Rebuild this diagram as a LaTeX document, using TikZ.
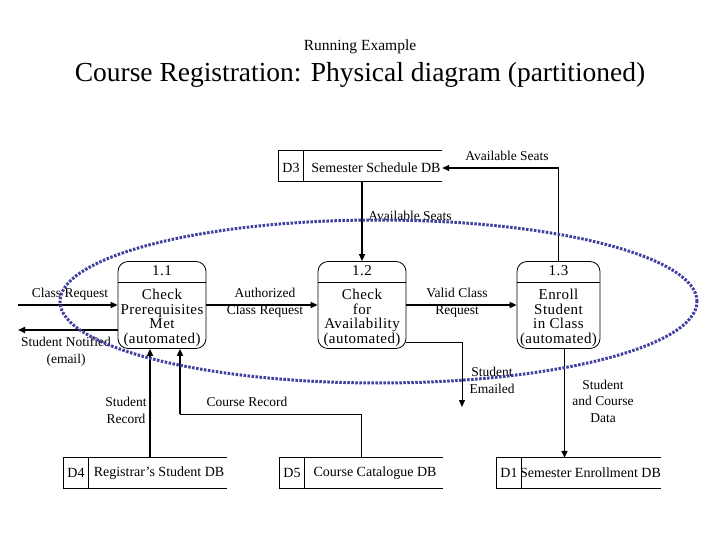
\documentclass[tikz,border=0pt]{standalone}
\usepackage{fontspec}
\setmainfont{Liberation Serif}
\usetikzlibrary{arrows.meta,shapes.geometric}
\definecolor{partblue}{RGB}{64,64,160}
\begin{document}
\begin{tikzpicture}[x=1pt,y=-1pt,
  lbl/.style={font=\fontsize{13.5}{16.5}\selectfont, align=center, inner sep=0},
  ptxt/.style={font=\fontsize{15}{14.5}\selectfont\addfontfeatures{LetterSpace=3}, align=center, inner sep=0},
  proc/.style={draw, rounded corners=10pt, minimum width=88pt, minimum height=87pt, line width=0.8pt, inner sep=0},
  storebox/.style={minimum height=30pt, inner sep=0},
  stxt/.style={font=\fontsize{14}{16}\selectfont, inner sep=0},
  tip/.style={-{Triangle[length=7pt,width=6pt]}},
  flow/.style={line width=2.2pt, tip},
  flowmed/.style={line width=1.5pt, tip},
  thinline/.style={line width=1pt},
  part/.style={draw=partblue, ellipse, line width=3pt, dash pattern=on 2.5pt off 1.5pt, minimum width=637pt, minimum height=163pt, inner sep=0}
]
\useasboundingbox (0,0) rectangle (720,540);
\fill[white] (0,0) rectangle (720,540);

% titles
\node[font=\fontsize{15.5}{18}\selectfont] (t1) at (360,47) {Running Example};
\node[font=\fontsize{27.5}{30}\selectfont] (t2) at (360,75) {Course Registration: Physical diagram (partitioned)};

% data stores
\node[storebox, minimum width=163pt] (d3) at (360.5,166) {};
\draw[thinline] (d3.north east) -- (d3.north west) -- (d3.south west) -- (d3.south east);
\draw[thinline] (303,151) -- (303,181);
\node[stxt] (d3id) at (291,168) {D3};
\node[stxt] (d3t) at (376,168) {Semester Schedule DB};

\node[storebox, minimum width=163pt] (d4) at (145,473) {};
\draw[thinline] (d4.north east) -- (d4.north west) -- (d4.south west) -- (d4.south east);
\draw[thinline] (88,458) -- (88,488);
\node[stxt] (d4id) at (76,473) {D4};
\node[stxt] (d4t) at (159,473) {Registrar's Student DB};

\node[storebox, minimum width=163pt] (d5) at (361.5,473) {};
\draw[thinline] (d5.north east) -- (d5.north west) -- (d5.south west) -- (d5.south east);
\draw[thinline] (304,458) -- (304,488);
\node[stxt] (d5id) at (292,473) {D5};
\node[stxt] (d5t) at (375,473) {Course Catalogue DB};

\node[storebox, minimum width=164pt] (d1) at (579,473) {};
\draw[thinline] (d1.north east) -- (d1.north west) -- (d1.south west) -- (d1.south east);
\draw[thinline] (521,458) -- (521,488);
\node[stxt] (d1id) at (509,473) {D1};
\node[stxt] (d1t) at (590.5,473) {Semester Enrollment DB};

% processes
\node[proc] (p11) at (162,305) {};
\draw[line width=0.8pt] ([yshift=-21pt]p11.north west) -- ([yshift=-21pt]p11.north east);
\node[ptxt] (p11h) at (162,271) {1.1};
\node[ptxt] (p11t) at (162,318) {Check\\Prerequisites\\Met\\(automated)};

\node[proc] (p12) at (362,305) {};
\draw[line width=0.8pt] ([yshift=-21pt]p12.north west) -- ([yshift=-21pt]p12.north east);
\node[ptxt] (p12h) at (362,271) {1.2};
\node[ptxt] (p12t) at (362,318) {Check\\for\\Availability\\(automated)};

\node[proc, minimum width=83pt] (p13) at (558.5,305) {};
\draw[line width=0.8pt] ([yshift=-21pt]p13.north west) -- ([yshift=-21pt]p13.north east);
\node[ptxt] (p13h) at (558.5,271) {1.3};
\node[ptxt] (p13t) at (558.5,318) {Enroll\\Student\\in Class\\(automated)};

% connectors
\coordinate (crin) at (18,305);
\coordinate (snout) at (18,330);
\draw[flow] (crin) -- (p11.west);
\draw[flow] (p11.west |- snout) -- (snout);
\draw[flow] (p11.east) -- (p12.west);
\draw[flow] (p12.east) -- (p13.west);
\draw[flow] (d3.south -| p12.north) -- (p12.north);
\coordinate (asc) at (p13.north |- d3t);
\draw[thinline] (p13.north) -- (asc);
\draw[flow] (asc) -- (d3.east |- d3t);
\coordinate (sem) at (462,407);
\draw[thinline, tip] ([yshift=-37pt]p12.east) -| (sem);
\coordinate (p13b) at ([xshift=6pt]p13.south);
\draw[flowmed] (p13b) -- (p13b |- d1.north);
\draw[flow] ([xshift=5pt]d4.north) -- ([xshift=-12pt]p11.south);
\coordinate (crc) at (180,414);
\draw[thinline] (d5.north) |- (crc);
\draw[flow] (crc) -- ([xshift=18pt]p11.south);

% labels
\node[lbl] (l1) at (507,156) {Available Seats};
\node[lbl] (l2) at (410,216) {Available Seats};
\node[lbl] (l3) at (70,294) {Class Request};
\node[lbl] (l4) at (66,351.5) {Student Notified\\(email)};
\node[lbl] (l5) at (265,303) {Authorized\\Class Request};
\node[lbl] (l6) at (457,303) {Valid Class\\Request};
\node[lbl] (l7) at (492,380.5) {Student\\Emailed};
\node[lbl] (l8) at (126,410.5) {Student\\Record};
\node[lbl] (l9) at (247,402) {Course Record};
\node[lbl] (l10) at (603,401) {Student\\and Course\\Data};

% partition
\node[part] (prt) at (378.5,301.5) {};
\end{tikzpicture}
\end{document}
